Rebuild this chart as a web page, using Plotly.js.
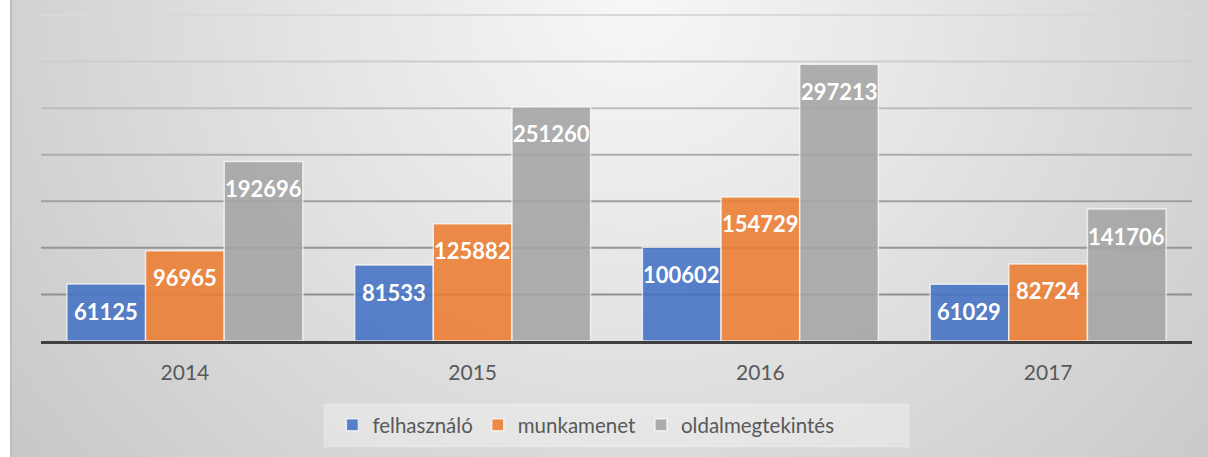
<!DOCTYPE html>
<html>
<head>
<meta charset="utf-8">
<script src="https://cdn.plot.ly/plotly-3.0.1.min.js"></script>
<style>
  html, body { margin: 0; padding: 0; background: #ffffff; }
  #wrap { position: relative; width: 1208px; height: 457px; overflow: hidden; }
  #bg {
    position: absolute; left: 10px; top: 0; right: 0; bottom: 0;
    background: radial-gradient(ellipse 845px 800px at 52% 0%, #f7f7f7 0%, #e6e6e6 35%, #c4c4c4 100%);
    border-left: 2px solid #bcbcbc;
  }
  #chart { position: absolute; left: 0; top: 0; width: 1208px; height: 457px; }
</style>
</head>
<body>
<div id="wrap">
  <div id="bg"></div>
  <div id="chart"></div>
</div>
<script>
// ---- data ----
const years = ['2014', '2015', '2016', '2017'];
const seriesNames = ['felhasználó', 'munkamenet', 'oldalmegtekintés'];
const felhasznalo = [61125, 81533, 100602, 61029];
const munkamenet = [96965, 125882, 154729, 82724];
const oldalmegtekintes = [192696, 251260, 297213, 141706];
const gridValues = [50000, 100000, 150000, 200000, 250000, 300000, 350000];

const seriesValues = [felhasznalo, munkamenet, oldalmegtekintes];
const seriesColors = ['#4472c4', '#ed7d31', '#a5a5a5'];
const gridColors = ['#8f8f8f', '#959595', '#a0a0a0', '#adadad', '#bdbdbd', '#cdcdcd', '#d9d9d9'];

const W = 1208, H = 457;
const margin = { l: 41, r: 16, t: 13, b: 116, pad: 0 };
const bargap = 0.18;
const plotW = W - margin.l - margin.r;
const plotH = H - margin.t - margin.b;
const py = p => (H - margin.b - p) / plotH;   // pixel row -> paper y

const traces = seriesValues.map((vals, i) => ({
  type: 'bar',
  name: seriesNames[i],
  x: years,
  y: vals,
  marker: { color: seriesColors[i], line: { color: 'rgba(255,255,255,0.75)', width: 1.5 } },
  opacity: 0.88,
  hoverinfo: 'skip'
}));

// value labels: placed through the axes (category index), shifted onto each bar of the group
const catW = plotW / years.length;
const barW = catW * (1 - bargap) / seriesValues.length;
const annotations = [];
seriesValues.forEach((vals, i) => {
  vals.forEach((v, j) => {
    annotations.push({
      x: j, y: v, xref: 'x', yref: 'y',
      text: String(v), showarrow: false,
      xshift: (i - 1) * barW, yshift: -27,
      xanchor: 'center', yanchor: 'middle',
      font: { family: 'Lato', size: 22, color: '#ffffff', weight: 700 }
    });
  });
});

const shapes = gridValues.map((g, k) => ({
  type: 'line', xref: 'x domain', yref: 'y',
  x0: 0, x1: 1, y0: g, y1: g,
  line: { color: gridColors[k], width: 2 },
  layer: 'below'
}));
// legend backdrop
shapes.push({
  type: 'rect', xref: 'paper', yref: 'paper',
  x0: (324 - margin.l) / plotW, x1: (909 - margin.l) / plotW,
  y0: py(447), y1: py(404),
  fillcolor: 'rgba(255,255,255,0.3)', line: { color: 'rgba(255,255,255,0.25)', width: 1 },
  layer: 'below'
});

const layout = {
  width: W, height: H,
  margin: margin,
  paper_bgcolor: 'rgba(0,0,0,0)',
  plot_bgcolor: 'rgba(0,0,0,0)',
  barmode: 'group',
  bargap: bargap,
  bargroupgap: 0,
  showlegend: true,
  xaxis: {
    type: 'category',
    range: [-0.5, years.length - 0.5],
    autorange: false,
    showgrid: false,
    showline: true, linecolor: '#404040', linewidth: 2.5,
    ticks: '',
    ticklabelstandoff: 11,
    tickfont: { family: 'Lato', size: 21, color: '#595959' },
    fixedrange: true
  },
  yaxis: {
    range: [0, 352150],
    autorange: false,
    showgrid: false, zeroline: false, showline: false,
    showticklabels: false, ticks: '',
    fixedrange: true
  },
  legend: {
    orientation: 'h',
    xref: 'container', yref: 'container',
    x: 0.485, xanchor: 'center',
    y: 1 - 405 / H, yanchor: 'top',
    bgcolor: 'rgba(0,0,0,0)',
    borderwidth: 0,
    font: { family: 'Lato', size: 20.5, color: '#595959' },
    traceorder: 'normal'
  },
  annotations: annotations,
  shapes: shapes
};

Plotly.newPlot('chart', traces, layout, { displayModeBar: false, staticPlot: true });
</script>
</body>
</html>
